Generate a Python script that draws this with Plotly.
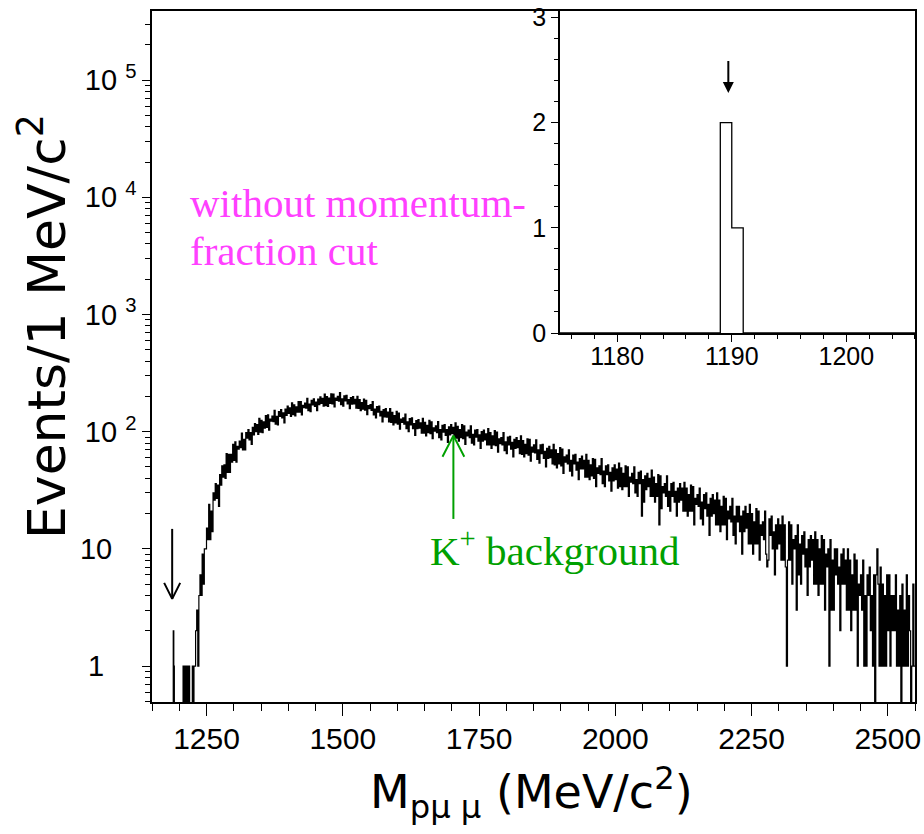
import plotly.graph_objects as go

# ---------------- data ----------------
# low-mass region: 1 MeV bins from 1150 to 1230 MeV/c^2 (only non-empty bins listed)
low_start, low_stop = 1150, 1230
low_nonzero = {1189: 2, 1190: 1, 1207: 1, 1209: 1, 1210: 1, 1212: 1, 1213: 1,
               1215: 1, 1217: 1, 1218: 1, 1224: 1, 1227: 1, 1228: 1, 1229: 1}

# main region: events per 1 MeV/c^2, read every 2 MeV/c^2 from 1230 to 2550
main_start, main_step, main_stop = 1230, 2, 2550
main_counts = [
    # 1230 - 1279
    2, 3, 1, 4, 6,  4, 9, 5, 10, 10,  15, 12, 24, 12, 21,  14, 30, 26, 36, 27,  35, 23, 43, 35, 51,
    # 1280 - 1329
    41, 52, 40, 65, 45,  64, 45, 64, 55, 78,  57, 82, 55, 75, 71,  83, 73, 97, 70, 86,  70, 98, 88, 104, 85,
    # 1330 - 1379
    98, 78, 109, 94, 117,  100, 115, 95, 130, 99,  125, 98, 121, 107, 137,  109, 139, 103, 128, 123,  136, 122, 152, 116, 135,
    # 1380 - 1429
    114, 148, 135, 154, 131,  145, 119, 156, 138, 165,  143, 160, 135, 176, 140,  169, 136, 163, 147, 181,  147, 181, 139, 168, 160,
    # 1430 - 1479
    175, 159, 192, 151, 172,  148, 185, 169, 191, 164,  179, 151, 190, 170, 198,  174, 192, 165, 209, 167,  199, 164, 193, 174, 210,
    # 1480 - 1529
    173, 209, 163, 193, 185,  200, 182, 215, 170, 191,  165, 202, 183, 204, 173,  188, 157, 195, 172, 199,  173, 189, 159, 200, 158,
    # 1530 - 1579
    188, 151, 177, 156, 190,  153, 185, 140, 167, 157,  170, 152, 181, 139, 156,  131, 164, 147, 165, 136,  149, 121, 154, 134, 157,
    # 1580 - 1629
    133, 147, 121, 157, 120,  146, 114, 137, 119, 149,  116, 144, 105, 128, 120,  131, 116, 141, 106, 121,  100, 129, 114, 131, 106,
    # 1630 - 1679
    117, 93, 124, 106, 127,  107, 119, 97, 130, 97,  120, 92, 113, 98, 125,  96, 121, 87, 108, 101,  112, 98, 122, 89, 104,
    # 1680 - 1729
    85, 113, 99, 115, 93,  104, 81, 110, 94, 115,  96, 109, 87, 119, 88,  111, 83, 104, 89, 115,  87, 112, 78, 99, 92,
    # 1730 - 1779
    103, 89, 112, 80, 95,  77, 103, 90, 104, 83,  94, 72, 100, 83, 103,  85, 96, 77, 106, 77,  98, 72, 92, 77, 102,
    # 1780 - 1829
    76, 99, 67, 87, 79,  89, 77, 98, 69, 82,  65, 90, 77, 91, 71,  81, 61, 86, 72, 89,  73, 84, 65, 92, 64,
    # 1830 - 1879
    84, 61, 78, 65, 87,  63, 86, 56, 74, 67,  77, 66, 85, 58, 70,  54, 77, 65, 78, 59,  68, 50, 72, 59, 75,
    # 1880 - 1929
    60, 70, 53, 78, 52,  70, 49, 65, 53, 73,  51, 71, 44, 61, 55,  63, 53, 70, 46, 57,  42, 63, 53, 64, 47,
    # 1930 - 1979
    55, 39, 59, 48, 62,  48, 57, 41, 64, 41,  57, 39, 52, 42, 59,  40, 58, 34, 49, 44,  51, 43, 59, 36, 46,
    # 1980 - 2029
    34, 51, 43, 52, 38,  45, 31, 49, 38, 52,  39, 48, 33, 54, 34,  49, 32, 44, 34, 51,  34, 50, 28, 41, 37,
    # 2030 - 2079
    44, 36, 50, 30, 39,  28, 45, 36, 46, 19,  39, 25, 42, 32, 44,  34, 40, 28, 47, 28,  41, 25, 36, 28, 43,
    # 2080 - 2129
    16, 42, 22, 34, 30,  36, 28, 42, 23, 31,  21, 36, 28, 37, 25,  31, 19, 33, 25, 36,  26, 33, 21, 37, 21,
    # 2130 - 2179
    33, 19, 29, 21, 35,  21, 34, 16, 27, 24,  29, 23, 33, 18, 25,  16, 29, 22, 30, 19,  24, 13, 27, 19, 29,
    # 2180 - 2229
    20, 26, 16, 30, 16,  26, 14, 23, 16, 28,  16, 27, 12, 21, 18,  23, 17, 27, 13, 19,  11, 23, 17, 23, 14,
    # 2230 - 2279
    19, 9, 21, 14, 23,  15, 20, 11, 24, 11,  20, 9, 17, 11, 22,  11, 21, 8, 16, 13,  17, 12, 21, 9, 7,
    # 2280 - 2329
    8, 18, 13, 19, 10,  14, 6, 16, 10, 18,  11, 16, 8, 19, 8,  16, 7, 1, 8, 17,  8, 16, 5, 12, 10,
    # 2330 - 2379
    13, 3, 16, 6, 11,  5, 13, 9, 14, 7,  10, 4, 12, 7, 13,  8, 12, 5, 14, 5,  12, 4, 10, 5, 13,
    # 2380 - 2429
    5, 12, 3, 9, 7,  10, 1, 12, 3, 8,  3, 10, 6, 10, 5,  7, 2, 9, 5, 10,  5, 8, 3, 10, 3,
    # 2430 - 2479
    8, 2, 6, 3, 9,  3, 8, 1, 5, 4,  6, 3, 8, 1, 4,  1, 6, 4, 7, 2,  4, 1, 6, 0, 6,
    # 2480 - 2529
    10, 5, 1, 7, 1,  5, 1, 4, 1, 6,  2, 6, 1, 4, 2,  4, 2, 6, 1, 3,  1, 4, 0, 5, 1,
    # 2530 - 2549
    3, 1, 6, 1, 4,  2, 0, 1, 5, 1,
]

# tick labels
x_ticks = [1250, 1500, 1750, 2000, 2250, 2500]
y_ticks = [1, 10, 100, 1000, 10000, 100000]
y_ticktext = ["1\u2007\u2007", "10\u2007\u2008", "10\u00a0<sup>2</sup>", "10\u00a0<sup>3</sup>",
              "10\u00a0<sup>4</sup>", "10\u00a0<sup>5</sup>"]
inset_xticks = [1180, 1190, 1200]
inset_yticks = [0, 1, 2, 3]

# ---------------- build histogram steps ----------------
low_edges = list(range(low_start, low_stop))
low_vals = [low_nonzero.get(m, 0) for m in low_edges]
main_edges = [main_start + main_step * i for i in range(len(main_counts))]
edges = low_edges + main_edges + [main_stop]
vals = low_vals + main_counts + [main_counts[-1]]
FLOOR = 1e-3  # empty bins fall below the log axis
y_main = [v if v > 0 else FLOOR for v in vals]

inset_lo, inset_hi = 1175, 1206
inset_x = [m for m in low_edges if inset_lo <= m <= inset_hi]
inset_y = [low_nonzero.get(m, 0) for m in inset_x]

SANS = "Liberation Sans, Arial, Helvetica, sans-serif"
SERIF = "Liberation Serif, Times New Roman, serif"
TITLE = "DejaVu Sans, Liberation Sans, sans-serif"
MAGENTA = "#ff40ff"
GREEN = "#00a000"

fig = go.Figure()
fig.add_trace(go.Scatter(x=edges, y=y_main, mode="lines", line=dict(color="black", width=1.2, shape="hv"),
                         hoverinfo="skip", xaxis="x", yaxis="y"))

# arrow marking the signal region (open V head)
fig.add_trace(go.Scatter(x=[1187, 1187, None, 1172.3, 1187, 1201.7],
                         y=[14.8, 3.74, None, 5.12, 3.74, 5.12],
                         mode="lines", line=dict(color="black", width=2), hoverinfo="skip"))
# K+ background arrow
fig.add_trace(go.Scatter(x=[1703, 1703, None, 1683, 1703, 1723],
                         y=[18, 92.5, None, 61.1, 92.5, 61.1],
                         mode="lines", line=dict(color=GREEN, width=2), hoverinfo="skip"))

# inset histogram
fig.add_trace(go.Scatter(x=inset_x, y=inset_y, mode="lines", line=dict(color="black", width=1.3, shape="hv"),
                         hoverinfo="skip", xaxis="x2", yaxis="y2"))

minor_y = [k * 10 ** d for d in range(-1, 6) for k in range(2, 10) if 0.5 <= k * 10 ** d <= 4e5]

fig.update_layout(
    width=924, height=834,
    margin=dict(l=152, r=9, t=11, b=132),
    paper_bgcolor="white", plot_bgcolor="white",
    showlegend=False,
    xaxis=dict(range=[1150, 2550], tickmode="array", tickvals=x_ticks, automargin=False,
               ticks="outside", ticklen=12, tickwidth=1.4, tickcolor="black", ticklabelstandoff=-3,
               minor=dict(ticks="outside", ticklen=7, tickwidth=1.2, tickcolor="black", dtick=50, tick0=1150),
               showline=True, linecolor="black", linewidth=1.5, mirror=True,
               showgrid=False, zeroline=False,
               tickfont=dict(family=SANS, size=30, color="black")),
    yaxis=dict(type="log", range=[-0.307, 5.59], tickmode="array", tickvals=y_ticks, ticktext=y_ticktext,
               automargin=False,
               ticks="outside", ticklen=8, tickwidth=1.4, tickcolor="black",
               minor=dict(ticks="outside", ticklen=5, tickwidth=1.2, tickcolor="black",
                          tickmode="array", tickvals=minor_y),
               showline=True, linecolor="black", linewidth=1.5, mirror=True,
               showgrid=False, zeroline=False,
               tickfont=dict(family=SANS, size=29, color="black")),
    xaxis2=dict(domain=[0.5347, 1.0], anchor="y2", range=[inset_lo, inset_hi], automargin=False,
                tickmode="array", tickvals=inset_xticks, ticklabelstandoff=-7,
                ticks="outside", ticklen=7, tickwidth=1.2, tickcolor="black",
                minor=dict(ticks="outside", ticklen=4, tickwidth=1, tickcolor="black", dtick=2, tick0=1176),
                showline=True, linecolor="black", linewidth=1.5, mirror=True,
                showgrid=False, zeroline=False,
                tickfont=dict(family=SANS, size=25, color="black")),
    yaxis2=dict(domain=[0.534, 1.0], anchor="x2", range=[0, 3.06], automargin=False,
                tickmode="array", tickvals=inset_yticks,
                ticks="outside", ticklen=7, tickwidth=1.2, tickcolor="black",
                minor=dict(ticks="outside", ticklen=4, tickwidth=1, tickcolor="black", dtick=0.2, tick0=0),
                showline=True, linecolor="black", linewidth=1.5, mirror=True,
                showgrid=False, zeroline=False,
                tickfont=dict(family=SANS, size=25, color="black")),
)

annotations = [
    dict(text="without momentum-", xref="paper", yref="paper", x=(188 - 152) / 763, y=(702 - 203) / 691,
         xanchor="left", yanchor="middle", showarrow=False, font=dict(family=SERIF, size=41, color=MAGENTA)),
    dict(text="fraction cut", xref="paper", yref="paper", x=(188 - 152) / 763, y=(702 - 251) / 691,
         xanchor="left", yanchor="middle", showarrow=False, font=dict(family=SERIF, size=41, color=MAGENTA)),
    dict(text="K<sup>+</sup> background", xref="paper", yref="paper", x=(554.5 - 152) / 763, y=(702 - 548) / 691,
         xanchor="center", yanchor="middle", showarrow=False, font=dict(family=SERIF, size=41, color=GREEN)),
    dict(text="Events/1 MeV/c<sup>2</sup>", xref="paper", yref="paper", x=(43 - 152) / 763, y=(702 - 327) / 691,
         xanchor="center", yanchor="middle", textangle=-90, showarrow=False,
         font=dict(family=TITLE, size=52, color="black")),
    dict(text="M<sub>p\u03bc \u03bc</sub> (MeV/c<sup>2</sup>)", xref="paper", yref="paper",
         x=(531 - 152) / 763, y=(702 - 792) / 691, xanchor="center", yanchor="middle", showarrow=False,
         font=dict(family=TITLE, size=46, color="black")),
    dict(text="", x=1189.7, y=2.28, ax=1189.7, ay=2.6, xref="x2", yref="y2", axref="x2", ayref="y2",
         showarrow=True, arrowhead=2, arrowsize=1.1, arrowwidth=2, arrowcolor="black"),
]
fig.update_layout(annotations=annotations)

fig.write_html("out.html")
